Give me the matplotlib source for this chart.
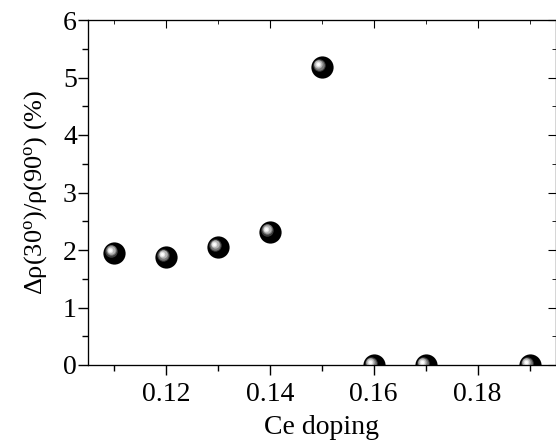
import numpy as np
import matplotlib
matplotlib.use("Agg")
import matplotlib.pyplot as plt
from matplotlib.transforms import offset_copy

plt.rcParams['font.family'] = ['Liberation Serif', 'DejaVu Serif']
plt.rcParams['mathtext.fontset'] = 'custom'
plt.rcParams['mathtext.rm'] = 'Liberation Serif'
plt.rcParams['mathtext.it'] = 'Liberation Serif:italic'

ce_doping = [0.11, 0.12, 0.13, 0.14, 0.15, 0.16, 0.17, 0.19]
ratio = [1.95, 1.88, 2.05, 2.32, 5.18, 0.0, 0.0, 0.0]

fig = plt.figure(figsize=(5.56, 4.41), dpi=100)
ax = fig.add_axes([88/556, 1-365/441, 467.5/556, 345/441])

# sphere-like markers: black ball with shaded highlight
layers = [
    (0, 0, 16.0, '#000000'),
    (-2.5, 2.0, 9.0, '#3c3c3c'),
    (-3.0, 2.4, 7.5, '#7a7a7a'),
    (-3.3, 2.7, 6.0, '#b4b4b4'),
    (-3.6, 2.9, 4.0, '#e2e2e2'),
    (-3.8, 3.0, 2.2, '#ffffff'),
]
for dx, dy, ms, col in layers:
    tr = offset_copy(ax.transData, fig=fig, x=dx, y=dy, units='dots')
    ax.plot(ce_doping, ratio, 'o', ms=ms, color=col, mec='none', transform=tr, zorder=3)

ax.set_xlim(0.105, 0.195)
ax.set_ylim(0, 6)
ax.set_xticks([0.12, 0.14, 0.16, 0.18])
ax.set_xticks(np.arange(0.11, 0.195, 0.01), minor=True)
ax.set_yticks(range(0, 7))
ax.set_yticks(np.arange(0.5, 6, 1.0), minor=True)
ax.set_xticklabels(['0.12', '0.14', '0.16', '0.18'])

ax.tick_params(which='both', direction='out', labelsize=20, width=1.0, pad=1)
ax.tick_params(which='major', length=7)
ax.tick_params(which='minor', length=4)
ax.tick_params(axis='x', pad=5)

# inward ticks on top and right
axt = ax.twiny()
axt.set_xlim(ax.get_xlim())
axt.set_xticks(ax.get_xticks())
axt.set_xticks(ax.get_xticks(minor=True), minor=True)
axt.tick_params(which='both', direction='in', labeltop=False)
axt.tick_params(which='major', length=6)
axt.tick_params(which='minor', length=3)
axr = ax.twinx()
axr.set_ylim(ax.get_ylim())
axr.set_yticks(ax.get_yticks())
axr.set_yticks(ax.get_yticks(minor=True), minor=True)
axr.tick_params(which='both', direction='in', labelright=False)
axr.tick_params(which='major', length=6)
axr.tick_params(which='minor', length=3)

ax.set_xlabel('Ce doping', fontsize=20, labelpad=6)
ax.set_ylabel('Δρ(30$^\\mathregular{o}$)/ρ(90$^\\mathregular{o}$) (%)', fontsize=19, labelpad=10)

fig.savefig('out.png', dpi=100)
